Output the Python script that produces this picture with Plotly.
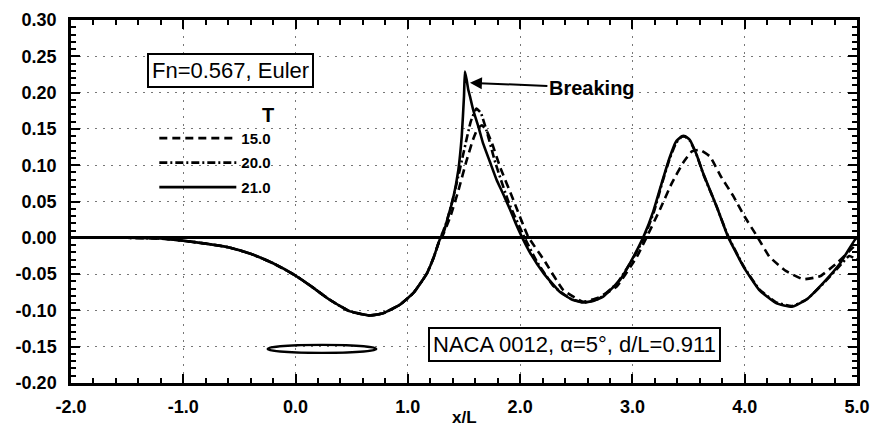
import plotly.graph_objects as go

# ---- data ----
up_x = [-2.0, -1.5, -1.2, -1.0, -0.8, -0.6, -0.4, -0.2, 0.0, 0.15, 0.3, 0.48, 0.66, 0.78, 0.93, 1.05, 1.17, 1.23, 1.29]
up_y = [0.0, 0.0, -0.001, -0.004, -0.008, -0.013, -0.022, -0.035, -0.052, -0.068, -0.085, -0.101, -0.107, -0.104, -0.092, -0.076, -0.049, -0.027, 0.0]

t21_x = [1.32, 1.36, 1.40, 1.45, 1.48, 1.50, 1.508, 1.523, 1.538, 1.553, 1.582, 1.63, 1.67, 1.73, 1.79, 1.85, 1.91,
         1.96, 2.01, 2.09, 2.21, 2.35, 2.46, 2.56, 2.65, 2.74, 2.89, 3.01, 3.10, 3.185, 3.26, 3.33, 3.39, 3.44, 3.47,
         3.51, 3.57, 3.63, 3.75, 3.85, 3.99, 4.13, 4.28, 4.42, 4.55, 4.70, 4.85, 4.98, 5.0]
t21_y = [0.008, 0.03, 0.052, 0.094, 0.14, 0.195, 0.229, 0.218, 0.204, 0.195, 0.176, 0.152, 0.130, 0.105, 0.080, 0.060, 0.039,
         0.020, 0.003, -0.021, -0.049, -0.074, -0.085, -0.089, -0.087, -0.081, -0.058, -0.026, 0.002, 0.036, 0.075, 0.110, 0.133, 0.140, 0.140,
         0.135, 0.115, 0.089, 0.043, 0.002, -0.040, -0.072, -0.090, -0.095, -0.085, -0.062, -0.035, -0.003, 0.0]

t20_x = [1.33, 1.37, 1.43, 1.50, 1.56, 1.61, 1.65, 1.70, 1.78, 1.90, 2.04, 2.15, 2.30, 2.45, 2.57, 2.70, 2.86, 3.00, 3.10,
         3.19, 3.26, 3.33, 3.39, 3.44, 3.47, 3.51, 3.57, 3.63, 3.75, 3.85, 3.99, 4.13, 4.28, 4.42, 4.55, 4.70, 4.85, 4.93, 5.0]
t20_y = [0.015, 0.035, 0.072, 0.12, 0.160, 0.178, 0.172, 0.148, 0.103, 0.048, 0.0, -0.033, -0.067, -0.084, -0.089, -0.084, -0.063, -0.030, -0.001,
         0.035, 0.073, 0.108, 0.131, 0.139, 0.139, 0.134, 0.115, 0.088, 0.043, 0.003, -0.039, -0.071, -0.089, -0.094, -0.085, -0.063, -0.038, -0.025, -0.030]

t15_x = [1.30, 1.38, 1.45, 1.52, 1.58, 1.62, 1.66, 1.70, 1.75, 1.82, 1.94, 2.07, 2.21, 2.385, 2.56, 2.70, 2.86, 3.04, 3.13,
         3.245, 3.35, 3.45, 3.53, 3.60, 3.69, 3.79, 3.90, 4.00, 4.11, 4.22, 4.37, 4.52, 4.67, 4.82, 4.94, 5.0]
t15_y = [0.0, 0.03, 0.065, 0.105, 0.135, 0.150, 0.155, 0.148, 0.130, 0.098, 0.052, 0.002, -0.030, -0.072, -0.088, -0.082, -0.067, -0.026, 0.002,
         0.039, 0.075, 0.103, 0.119, 0.121, 0.112, 0.084, 0.057, 0.029, 0.002, -0.026, -0.046, -0.057, -0.053, -0.035, -0.017, -0.008]

x_ticks = [-2, -1, 0, 1, 2, 3, 4, 5]
x_ticktext = ["-2.0", "-1.0", "0.0", "1.0", "2.0", "3.0", "4.0", "5.0"]
y_ticks = [-0.20, -0.15, -0.10, -0.05, 0.0, 0.05, 0.10, 0.15, 0.20, 0.25, 0.30]
y_ticktext = ["-0.20", "-0.15", "-0.10", "-0.05", "0.00", "0.05", "0.10", "0.15", "0.20", "0.25", "0.30"]

# foil outline extent (x/L) and vertical position
foil_x = [-0.25, 0.72]
foil_y = [-0.1585, -0.1475]

FONT = "Liberation Sans, Arial, sans-serif"

fig = go.Figure()
series = [
    ("15.0", up_x + t15_x, up_y + t15_y, "8px,5px"),
    ("20.0", up_x + t20_x, up_y + t20_y, "8px,3px,2px,3px"),
    ("21.0", up_x + t21_x, up_y + t21_y, "solid"),
]
for name, xs, ys, dash in series:
    fig.add_trace(go.Scatter(
        x=xs, y=ys, mode="lines", name=name, legendgroup=name,
        line=dict(color="black", width=2.6, dash=dash, shape="spline", smoothing=0.4),
    ))

fig.add_shape(type="circle", xref="x", yref="y",
              x0=foil_x[0], x1=foil_x[1], y0=foil_y[0], y1=foil_y[1],
              line=dict(color="black", width=2.2))

axis_common = dict(
    showline=True, linecolor="black", linewidth=2.5, mirror="ticks",
    ticks="inside", ticklen=9, tickwidth=2, tickcolor="black",
    showgrid=True, gridcolor="#777", griddash="2px,6px", gridwidth=1,
    tickfont=dict(family=FONT, size=18, color="black", weight="bold"),
    automargin=False,
)

fig.update_xaxes(range=[-2, 5], tickvals=x_ticks, ticktext=x_ticktext,
                 minor=dict(dtick=0.2, ticks="inside", ticklen=5, tickwidth=1.5, tickcolor="black", showgrid=False),
                 zeroline=False, ticklabelstandoff=6, **axis_common)
fig.update_yaxes(range=[-0.20, 0.30], tickvals=y_ticks, ticktext=y_ticktext,
                 minor=dict(dtick=0.01, ticks="inside", ticklen=5, tickwidth=1.5, tickcolor="black", showgrid=False),
                 zeroline=True, zerolinecolor="black", zerolinewidth=2.5, ticklabelstandoff=8, **axis_common)

fig.update_layout(
    width=876, height=427,
    margin=dict(l=71, r=19, t=20, b=44),
    paper_bgcolor="white", plot_bgcolor="white",
    font=dict(family=FONT, color="black"),
    showlegend=True,
    legend=dict(
        x=0.106, y=0.791, xanchor="left", yanchor="top",
        bgcolor="rgba(0,0,0,0)", borderwidth=0,
        itemwidth=77, traceorder="grouped", tracegroupgap=2,
        font=dict(family=FONT, size=15, color="black", weight="bold"),
        title=dict(text="T", side="top right",
                   font=dict(family=FONT, size=20, color="black", weight="bold")),
    ),
    annotations=[
        dict(text="Fn=0.567, Euler", x=-0.58, y=0.231, xref="x", yref="y", showarrow=False,
             font=dict(family=FONT, size=22, color="black"),
             bordercolor="black", borderwidth=2, borderpad=3, bgcolor="white"),
        dict(text="NACA 0012, \u03b1=5\u00b0, d/L=0.911", x=2.488, y=-0.147, xref="x", yref="y", showarrow=False,
             font=dict(family=FONT, size=22, color="black"),
             bordercolor="black", borderwidth=2, borderpad=3, bgcolor="white"),
        dict(text="<b>Breaking</b>", x=1.553, y=0.2135, xref="x", yref="y",
             ax=2.639, ay=0.2066, axref="x", ayref="y",
             showarrow=True, arrowhead=2, arrowsize=1.2, arrowwidth=2, arrowcolor="black",
             font=dict(family=FONT, size=20, color="black")),
        dict(text="<b>x/L</b>", x=0.5, y=-0.094, xref="paper", yref="paper", showarrow=False,
             yanchor="middle", font=dict(family=FONT, size=17, color="black")),
    ],
)

fig.write_html("out.html", config={"displayModeBar": False},
               post_script="document.body.style.margin='0';")
